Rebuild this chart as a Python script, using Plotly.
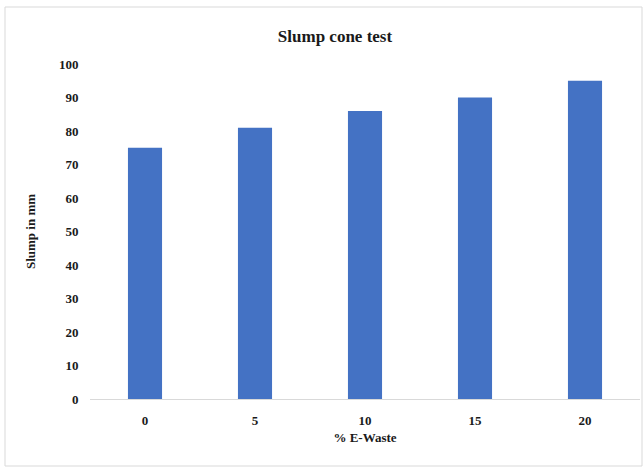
import plotly.graph_objects as go

categories = ["0", "5", "10", "15", "20"]
slump_mm = [75, 81, 86, 90, 95]
y_ticks = [0, 10, 20, 30, 40, 50, 60, 70, 80, 90, 100]

W, H = 644, 472
L, R, T, B = 90, 4, 64, 73
pw, ph = W - L - R, H - T - B

font = "Liberation Serif, Times New Roman, serif"
tcol = "#1a1a1a"

fig = go.Figure(go.Bar(
    x=categories, y=slump_mm,
    marker=dict(color="#4472C4", line=dict(width=0)),
    width=0.31,
))

def px_x(p):
    return (p - L) / pw

def px_y(p):
    return (H - B - p) / ph

fig.update_layout(
    width=W, height=H,
    margin=dict(l=L, r=R, t=T, b=B),
    paper_bgcolor="white", plot_bgcolor="white",
    showlegend=False,
    title=dict(text="<b>Slump cone test</b>", x=335 / W, xanchor="center",
               y=1 - 36 / H, yanchor="middle",
               font=dict(family=font, size=17, color=tcol)),
    xaxis=dict(type="category", range=[-0.5, 4.5], showgrid=False,
               showline=True, linecolor="#d9d9d9", linewidth=1,
               ticks="outside", ticklen=9, tickcolor="rgba(0,0,0,0)",
               tickvals=categories, ticktext=[f"<b>{c}</b>" for c in categories],
               tickfont=dict(family=font, size=13, color=tcol),
               title=dict(text="<b>% E-Waste</b>", font=dict(family=font, size=13, color=tcol), standoff=6)),
    yaxis=dict(range=[0, 100], showgrid=False, zeroline=False,
               showline=False, ticks="outside", ticklen=8, tickcolor="rgba(0,0,0,0)",
               tickvals=y_ticks, ticktext=[f"<b>{v}</b>" for v in y_ticks],
               tickfont=dict(family=font, size=13, color=tcol),
               title=dict(text="<b>Slump in mm</b>", font=dict(family=font, size=13, color=tcol), standoff=20)),
    font=dict(family=font),
)

fig.add_shape(type="rect", xref="paper", yref="paper",
              x0=px_x(5), x1=px_x(642), y0=px_y(466), y1=px_y(7),
              line=dict(color="#d9d9d9", width=1), fillcolor="rgba(0,0,0,0)", layer="below")

fig.write_html("out.html")
